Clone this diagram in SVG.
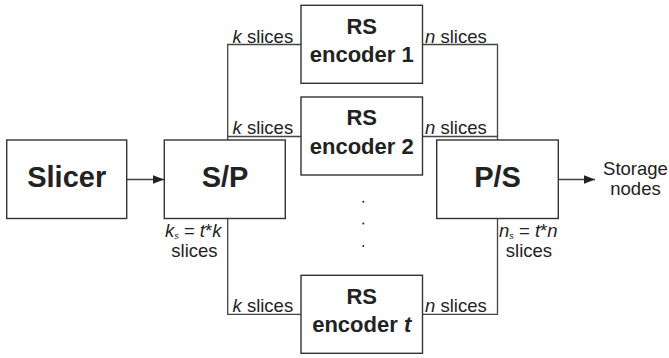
<svg xmlns="http://www.w3.org/2000/svg" width="669" height="358" viewBox="0 0 669 358">
<defs>
<style>
.box{fill:#fff;stroke:#333;stroke-width:1.4}
.ln{fill:none;stroke:#444;stroke-width:1.3}
.big{font-family:"Liberation Sans",Arial,sans-serif;font-weight:bold;font-size:29px;fill:#222;text-anchor:middle}
.enc{font-family:"Liberation Sans",Arial,sans-serif;font-weight:bold;font-size:22px;fill:#222;text-anchor:middle}
.lbl{font-family:"Liberation Sans",Arial,sans-serif;font-size:18.5px;fill:#222}
.mid{text-anchor:middle}
.it{font-style:italic}
</style>
<marker id="ah" markerWidth="12" markerHeight="10" refX="11" refY="5" orient="auto" markerUnits="userSpaceOnUse">
<path d="M0,0.8 L11,5 L0,9.2 Z" fill="#222"/>
</marker>
</defs>
<rect width="669" height="358" fill="#fff"/>
<g id="connectors">
<line class="ln" x1="127" y1="179.5" x2="164" y2="179.5" marker-end="url(#ah)"/>
<polyline class="ln" points="301,44.5 227.7,44.5 227.7,140"/>
<line class="ln" x1="227.7" y1="136.5" x2="301" y2="136.5"/>
<polyline class="ln" points="227.7,218.5 227.7,314.3 301,314.3"/>
<polyline class="ln" points="422.5,44.5 497.5,44.5 497.5,140"/>
<line class="ln" x1="422.5" y1="136.5" x2="497.5" y2="136.5"/>
<polyline class="ln" points="497.5,218.5 497.5,314.3 422.5,314.3"/>
<line class="ln" x1="558.3" y1="179.5" x2="595" y2="179.5" marker-end="url(#ah)"/>
<text class="lbl" x="232.5" y="42.5"><tspan class="it">k</tspan> slices</text>
<text class="lbl" x="232.5" y="134"><tspan class="it">k</tspan> slices</text>
<text class="lbl" x="232.5" y="312"><tspan class="it">k</tspan> slices</text>
<text class="lbl" x="425" y="42.5"><tspan class="it">n</tspan> slices</text>
<text class="lbl" x="425" y="134"><tspan class="it">n</tspan> slices</text>
<text class="lbl" x="425" y="312"><tspan class="it">n</tspan> slices</text>
<text class="lbl" x="165" y="236.5"><tspan class="it">k</tspan><tspan class="it" font-size="9" dy="2.5">s</tspan><tspan dy="-2.5"> = </tspan><tspan class="it">t</tspan>*<tspan class="it">k</tspan></text>
<text class="lbl mid" x="194.5" y="256.5">slices</text>
<text class="lbl" x="499" y="236.5"><tspan class="it">n</tspan><tspan class="it" font-size="9" dy="2.5">s</tspan><tspan dy="-2.5"> = </tspan><tspan class="it">t</tspan>*<tspan class="it">n</tspan></text>
<text class="lbl mid" x="529" y="256.5">slices</text>
</g>
<g id="slicer">
<rect class="box" x="6.7" y="140" width="120" height="78.5"/>
<text class="big" x="66.7" y="187.3">Slicer</text>
</g>
<g id="sp">
<rect class="box" x="164.3" y="140" width="121" height="78.5"/>
<text class="big" x="225" y="187.3">S/P</text>
</g>
<g id="enc1">
<rect class="box" x="301" y="5.3" width="121.5" height="78"/>
<text class="enc" x="361.7" y="33.5">RS</text>
<text class="enc" x="361.7" y="62">encoder 1</text>
</g>
<g id="enc2">
<rect class="box" x="301" y="97" width="121.5" height="78"/>
<text class="enc" x="361.7" y="125.2">RS</text>
<text class="enc" x="361.7" y="153.7">encoder 2</text>
</g>
<g id="dots" fill="#222">
<circle cx="363.3" cy="201.7" r="1"/>
<circle cx="363.3" cy="223.5" r="1"/>
<circle cx="363.3" cy="246" r="1"/>
</g>
<g id="enct">
<rect class="box" x="301" y="275.3" width="121.5" height="78"/>
<text class="enc" x="361.7" y="303.5">RS</text>
<text class="enc" x="361.7" y="332">encoder <tspan class="it">t</tspan></text>
</g>
<g id="ps">
<rect class="box" x="436.7" y="140" width="121.6" height="78.5"/>
<text class="big" x="497.5" y="187.3">P/S</text>
</g>
<g id="storage">
<text class="lbl mid" x="635.5" y="175">Storage</text>
<text class="lbl mid" x="635.5" y="195">nodes</text>
</g>
</svg>
